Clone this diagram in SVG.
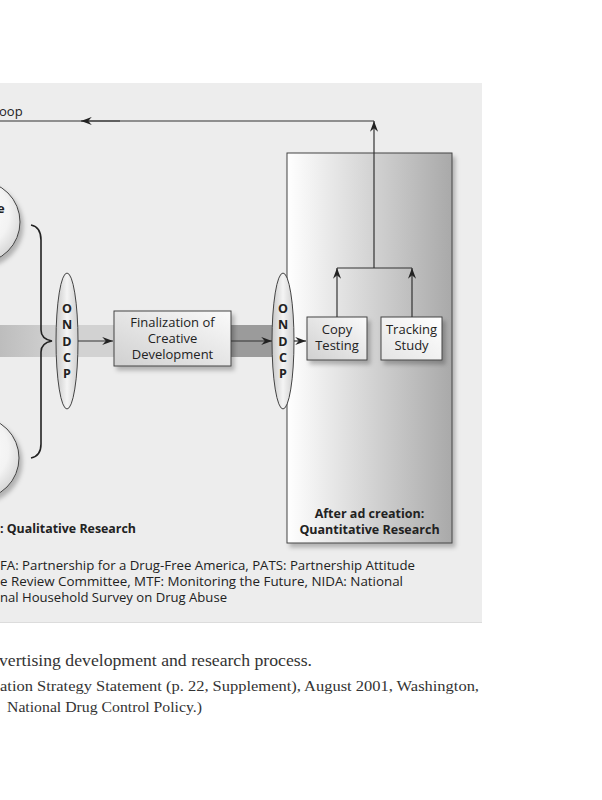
<svg xmlns="http://www.w3.org/2000/svg" width="602" height="800" viewBox="0 0 602 800">
<defs>
<style>
.sans{font-family:"Open Sans","Noto Sans","Liberation Sans",sans-serif;fill:#222}
.b{font-weight:bold}
.serif{font-family:"Liberation Serif","DejaVu Serif",serif;fill:#333}
.ln{stroke:#333;stroke-width:1.2;fill:none}
.box{stroke:#444;stroke-width:1}
.lt{font-size:13px;text-anchor:middle}
.od{font-size:12.5px;font-weight:bold;text-anchor:middle}
.fn{font-size:12.5px}
</style>
<linearGradient id="gBig" x1="0" y1="0" x2="1" y2="0">
<stop offset="0" stop-color="#ffffff"/><stop offset="0.5" stop-color="#d4d4d4"/><stop offset="1" stop-color="#a9a9a9"/>
</linearGradient>
<linearGradient id="gBox" x1="0" y1="1" x2="1" y2="0">
<stop offset="0" stop-color="#d0d0d0"/><stop offset="1" stop-color="#fafafa"/>
</linearGradient>
<linearGradient id="gBox2" x1="0" y1="1" x2="1" y2="0">
<stop offset="0" stop-color="#e4e4e4"/><stop offset="1" stop-color="#ffffff"/>
</linearGradient>
<linearGradient id="gEll" x1="0" y1="0" x2="1" y2="0">
<stop offset="0" stop-color="#c9c9c9"/><stop offset="0.5" stop-color="#f4f4f4"/><stop offset="1" stop-color="#cfcfcf"/>
</linearGradient>
<radialGradient id="gCirc" cx="0.45" cy="0.4" r="0.6">
<stop offset="0" stop-color="#ffffff"/><stop offset="0.7" stop-color="#f3f3f3"/><stop offset="1" stop-color="#d8d8d8"/>
</radialGradient>
<linearGradient id="gBand" x1="0" y1="0" x2="1" y2="0">
<stop offset="0" stop-color="#bdbdbd"/><stop offset="1" stop-color="#d2d2d2"/>
</linearGradient>
<filter id="sh" x="-20%" y="-20%" width="150%" height="150%">
<feDropShadow dx="3" dy="4" stdDeviation="2" flood-color="#000" flood-opacity="0.25"/>
</filter>
<marker id="ah" viewBox="0 0 12 10" refX="12" refY="5" markerWidth="12" markerHeight="9" markerUnits="userSpaceOnUse" orient="auto">
<path d="M0,0.5 L12,5 L0,9.5 L4,5 Z" fill="#222"/>
</marker>
</defs>

<rect x="0" y="0" width="602" height="800" fill="#ffffff"/>
<rect x="0" y="83" width="482" height="539" fill="#ededed"/>
<line x1="0" y1="622.5" x2="482" y2="622.5" stroke="#dcdcdc"/>

<g id="bands">
<rect x="0" y="325" width="58" height="32" fill="url(#gBand)"/>
<rect x="76" y="325" width="40" height="32" fill="#d2d2d2"/>
<rect x="231" y="325" width="44" height="32" fill="#9b9b9b"/>
</g>

<g id="circle-top">
<circle cx="-21" cy="222" r="41" fill="url(#gCirc)" stroke="#444" stroke-width="1" filter="url(#sh)"/>
<text x="-3" y="213" class="sans b" font-size="13">e</text>
</g>
<g id="circle-bottom">
<circle cx="-22" cy="458" r="41" fill="url(#gCirc)" stroke="#444" stroke-width="1" filter="url(#sh)"/>
</g>

<g id="brace">
<path d="M31,225 Q41,227 41,240 L41,330 Q41,339 52,341 Q41,343 41,352 L41,444 Q41,456 31,458" fill="none" stroke="#222" stroke-width="1.6"/>
</g>

<g id="ondcp1">
<ellipse cx="67" cy="341" rx="11" ry="68" fill="url(#gEll)" stroke="#444" stroke-width="1"/>
<text class="sans od" x="67" y="313">O</text>
<text class="sans od" x="67" y="329">N</text>
<text class="sans od" x="67" y="346">D</text>
<text class="sans od" x="67" y="362">C</text>
<text class="sans od" x="67" y="378">P</text>
</g>

<g id="finalization">
<rect x="114" y="311" width="117" height="55" fill="url(#gBox)" class="box" filter="url(#sh)"/>
<text class="sans lt" x="172.5" y="327">Finalization of</text>
<text class="sans lt" x="172.5" y="343">Creative</text>
<text class="sans lt" x="172.5" y="359">Development</text>
</g>

<g id="quant">
<rect x="287" y="153" width="165" height="390" fill="url(#gBig)" class="box" filter="url(#sh)"/>
<text class="sans b" font-size="12.5" text-anchor="middle" x="369.5" y="518">After ad creation:</text>
<text class="sans b" font-size="12.5" text-anchor="middle" x="369.5" y="534">Quantitative Research</text>
</g>

<g id="ondcp2">
<ellipse cx="283" cy="341" rx="11" ry="68" fill="url(#gEll)" stroke="#444" stroke-width="1"/>
<text class="sans od" x="283" y="313">O</text>
<text class="sans od" x="283" y="329">N</text>
<text class="sans od" x="283" y="346">D</text>
<text class="sans od" x="283" y="362">C</text>
<text class="sans od" x="283" y="378">P</text>
</g>

<g id="copy">
<rect x="307" y="317" width="60" height="43" fill="url(#gBox)" class="box" filter="url(#sh)"/>
<text class="sans lt" x="337" y="334">Copy</text>
<text class="sans lt" x="337" y="350">Testing</text>
</g>

<g id="tracking">
<rect x="381" y="317" width="61" height="43" fill="url(#gBox2)" class="box" filter="url(#sh)"/>
<text class="sans lt" x="411.5" y="334">Tracking</text>
<text class="sans lt" x="411.5" y="350">Study</text>
</g>

<g id="connectors">
<line class="ln" x1="78" y1="341" x2="113" y2="341" marker-end="url(#ah)"/>
<line class="ln" x1="231" y1="341" x2="272" y2="341" marker-end="url(#ah)"/>
<line class="ln" x1="294" y1="341" x2="306" y2="341" marker-end="url(#ah)"/>
<line class="ln" x1="337" y1="317" x2="337" y2="268" marker-end="url(#ah)"/>
<line class="ln" x1="412" y1="317" x2="412" y2="268" marker-end="url(#ah)"/>
<polyline class="ln" points="337,268 412,268"/>
<line class="ln" x1="374" y1="268" x2="374" y2="121" marker-end="url(#ah)"/>
<line class="ln" x1="374" y1="121" x2="0" y2="121"/>
<line class="ln" x1="120" y1="121" x2="81" y2="121" marker-end="url(#ah)"/>
</g>

<g id="labels">
<text class="sans" font-size="13" x="-1" y="116">oop</text>
<text class="sans b" font-size="13" x="0" y="533" textLength="136" lengthAdjust="spacingAndGlyphs">: Qualitative Research</text>
<text class="sans fn" x="0" y="570" textLength="415" lengthAdjust="spacingAndGlyphs">FA: Partnership for a Drug-Free America, PATS: Partnership Attitude</text>
<text class="sans fn" x="0" y="586" textLength="403" lengthAdjust="spacingAndGlyphs">e Review Committee, MTF: Monitoring the Future, NIDA: National</text>
<text class="sans fn" x="0" y="602" textLength="227" lengthAdjust="spacingAndGlyphs">nal Household Survey on Drug Abuse</text>
<text class="serif" font-size="17" x="-1" y="666" textLength="313" lengthAdjust="spacingAndGlyphs">vertising development and research process.</text>
<text class="serif" font-size="15" x="0" y="691" textLength="479" lengthAdjust="spacingAndGlyphs">ation Strategy Statement (p. 22, Supplement), August 2001, Washington,</text>
<text class="serif" font-size="15" x="7" y="712" textLength="195" lengthAdjust="spacingAndGlyphs">National Drug Control Policy.)</text>
</g>
</svg>
